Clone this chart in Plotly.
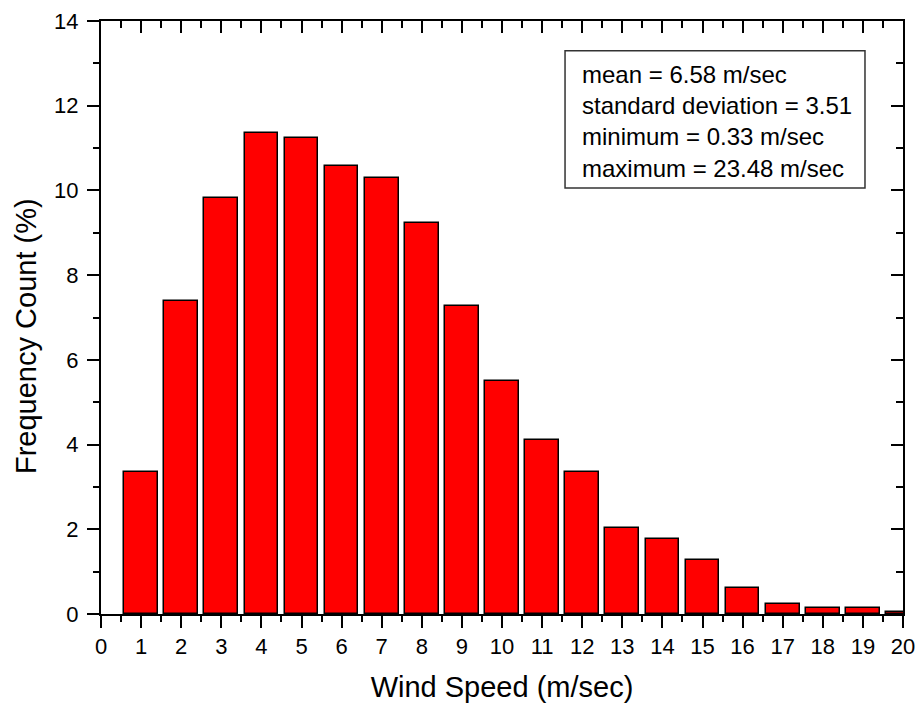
import plotly.graph_objects as go

# Data
wind_speed = list(range(1, 21))
frequency = [3.35, 7.40, 9.83, 11.35, 11.23, 10.57, 10.30, 9.23, 7.28, 5.49,
             4.10, 3.36, 2.04, 1.76, 1.28, 0.62, 0.24, 0.13, 0.13, 0.04]
stats_lines = ["mean = 6.58 m/sec", "standard deviation = 3.51",
               "minimum = 0.33 m/sec", "maximum = 23.48 m/sec"]
x_title = "Wind Speed (m/sec)"
y_title = "Frequency Count (%)"

FONT = "Liberation Sans, Arial, sans-serif"

fig = go.Figure()
fig.add_trace(go.Bar(
    x=wind_speed, y=frequency, width=0.84,
    marker=dict(color="#ff0000", line=dict(color="black", width=1.5)),
    showlegend=False, hoverinfo="x+y",
))
# empty trace to create the mirrored (top/right) axes
fig.add_trace(go.Scatter(x=[], y=[], xaxis="x2", yaxis="y2", showlegend=False))

common = dict(showline=True, linecolor="black", linewidth=2, showgrid=False,
              zeroline=False, tickcolor="black", tickwidth=2, automargin=False)

fig.update_layout(
    width=917, height=704,
    margin=dict(l=101, r=14, t=21, b=90),
    paper_bgcolor="white", plot_bgcolor="white",
    font=dict(family=FONT, color="black"),
    xaxis=dict(range=[0, 20], dtick=1, tick0=0, ticks="outside", ticklen=12,
               minor=dict(ticks="outside", ticklen=6, dtick=0.5, tick0=0,
                          tickcolor="black", tickwidth=2),
               tickfont=dict(size=22), mirror=True,
               title=dict(text=x_title, font=dict(size=29), standoff=18),
               **common),
    yaxis=dict(range=[0, 14], dtick=2, tick0=0, ticks="outside", ticklen=12,
               minor=dict(ticks="outside", ticklen=6, dtick=1, tick0=0,
                          tickcolor="black", tickwidth=2),
               tickfont=dict(size=22), mirror=True, ticklabelstandoff=4,
               **common),
    xaxis2=dict(range=[0, 20], dtick=1, tick0=0, overlaying="x", side="top",
                anchor="y", ticks="inside", ticklen=12, showticklabels=False,
                minor=dict(ticks="inside", ticklen=7, dtick=0.5, tick0=0,
                           tickcolor="black", tickwidth=2),
                **common),
    yaxis2=dict(range=[0, 14], dtick=2, tick0=0, overlaying="y", side="right",
                anchor="x", ticks="inside", ticklen=12, showticklabels=False,
                minor=dict(ticks="inside", ticklen=7, dtick=1, tick0=0,
                           tickcolor="black", tickwidth=2),
                **common),
    bargap=0,
)

# y-axis title (placed slightly below centre as in the original)
fig.add_annotation(xref="paper", yref="paper", x=-0.0935, y=0.4688,
                   xanchor="center", yanchor="middle", textangle=-90,
                   showarrow=False, text=y_title,
                   font=dict(size=29, family=FONT, color="black"))

# statistics box
fig.add_shape(type="rect", xref="paper", yref="paper",
              x0=0.5786, x1=0.9526, y0=0.7184, y1=0.9499,
              line=dict(color="#333333", width=1.5), fillcolor="rgba(0,0,0,0)")
fig.add_annotation(xref="paper", yref="paper", x=0.5986, y=0.935,
                   xanchor="left", yanchor="top", align="left", showarrow=False,
                   borderpad=0,
                   text="<br>".join(stats_lines),
                   font=dict(size=24, family=FONT, color="black"))

fig.write_html("out.html")
